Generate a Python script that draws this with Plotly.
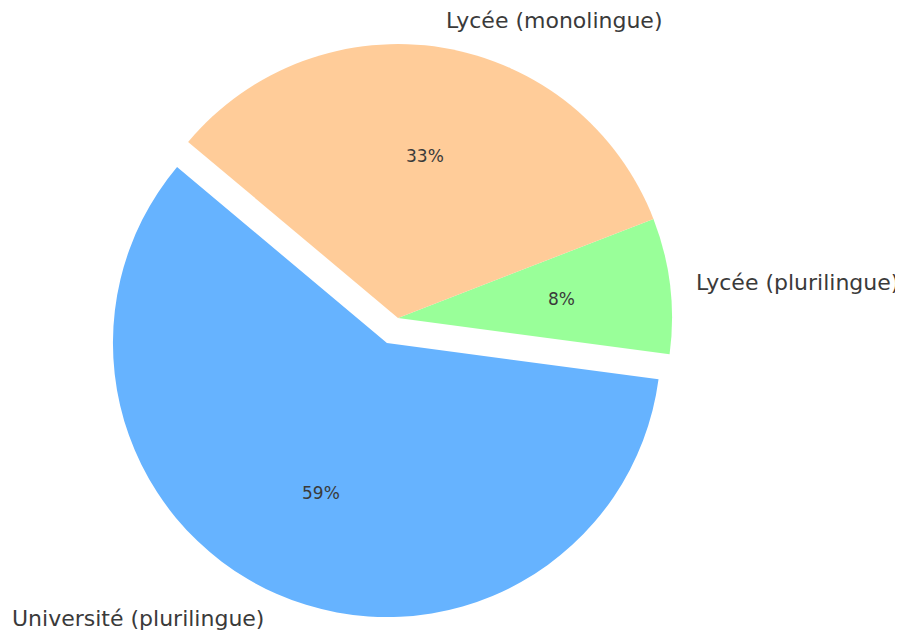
import math
import plotly.graph_objects as go

labels = ["Université (plurilingue)", "Lycée (plurilingue)", "Lycée (monolingue)"]
values = [59, 8, 33]
colors = ["#66b3ff", "#99ff99", "#ffcc99"]
pulls = [0.1, 0, 0]
start_angle = 140  # degrees, counterclockwise from 3 o'clock (first slice start)

total = sum(values)
# plotly counterclockwise mode: first slice spans clockwise from the rotation line
first_span = 360 * values[0] / total
rotation = (90 - (start_angle + first_span)) % 360
if rotation > 180:
    rotation -= 360

W, H = 903, 630
cx, cy, r = 390, 310, 274          # pie centre / radius in figure pixels
half = r * (1 + max(pulls))
dom_x = [(cx - half) / W, (cx + half) / W]
dom_y = [1 - (cy + half) / H, 1 - (cy - half) / H]

fig = go.Figure()
fig.add_trace(go.Pie(
    labels=labels, values=values, sort=False, direction="counterclockwise",
    rotation=rotation, pull=pulls, marker=dict(colors=colors, line=dict(width=0)),
    textinfo="none", automargin=False,
    domain=dict(x=dom_x, y=dom_y), showlegend=False, hoverinfo="label+percent",
))

# labels (1.1 r) and percentages (0.6 r) along each slice bisector, matplotlib style
annotations = []
cum = 0
for lab, v, p in zip(labels, values, pulls):
    span = 360 * v / total
    mid = math.radians(start_angle + 360 * cum / total + span / 2)
    cum += v
    ox, oy = math.cos(mid), math.sin(mid)
    d_lab = (1.1 + p) * r
    d_pct = (0.6 + p) * r
    annotations.append(dict(
        x=(cx + d_lab * ox) / W, y=1 - (cy - d_lab * oy) / H,
        xref="paper", yref="paper", text=lab, showarrow=False, borderpad=0,
        xanchor="left" if ox > 0 else "right", yanchor="middle",
        xshift=-2 if ox > 0 else 0,
        font=dict(family="DejaVu Sans", size=22, color="#3a3a3a"),
    ))
    annotations.append(dict(
        x=(cx + d_pct * ox) / W, y=1 - (cy - d_pct * oy) / H,
        xref="paper", yref="paper", text=f"{round(100 * v / total)}%", showarrow=False,
        xanchor="center", yanchor="middle", borderpad=0,
        font=dict(family="DejaVu Sans", size=17, color="#3a3a3a"),
    ))

fig.update_layout(
    width=W, height=H, margin=dict(l=0, r=0, t=0, b=0, autoexpand=False),
    paper_bgcolor="white", plot_bgcolor="white", annotations=annotations,
)
fig.write_html("out.html")
